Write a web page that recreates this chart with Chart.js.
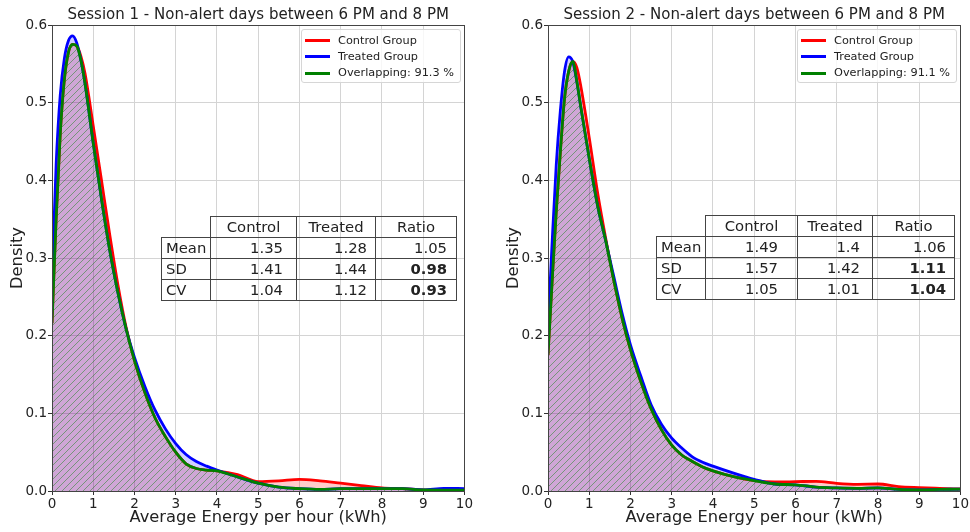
<!DOCTYPE html>
<html>
<head>
<meta charset="utf-8">
<script src="https://cdn.jsdelivr.net/npm/chart.js@4.4.1/dist/chart.umd.min.js"></script>
<style>
  html, body { margin: 0; padding: 0; background: #fff; }
  body { width: 970px; height: 532px; position: relative; overflow: hidden; font-family: "DejaVu Sans", sans-serif; color: #222; }
  canvas.panel { position: absolute; top: 0; }
  .legend { position: absolute; box-sizing: border-box; background: rgba(255,255,255,0.8); border: 1px solid #d6d6d6; border-radius: 3px; font-size: 11.3px; }
  .legend .swatch { position: absolute; height: 3px; width: 25px; }
  .legend .label { position: absolute; white-space: nowrap; line-height: 14px; }
  .cell { position: absolute; box-sizing: border-box; font-size: 14.8px; white-space: nowrap; }
</style>
</head>
<body>
<canvas id="chart1" class="panel" width="474" height="532" style="left:0px"></canvas>
<canvas id="chart2" class="panel" width="474" height="532" style="left:496px"></canvas>
<div id="overlay"></div>
<script>
const energyGrid = [0, 0.1, 0.2, 0.3, 0.4, 0.5, 0.6, 0.7, 0.8, 1.0, 1.2, 1.4, 1.6, 1.8, 2.0, 2.25, 2.5, 2.75, 3.0, 3.25, 3.5, 3.75, 4.0, 4.5, 5.0, 5.5, 6.0, 6.5, 7.0, 7.5, 8.0, 8.5, 9.0, 9.5, 10];

// Session 1
const s1Control = [0.216, 0.35, 0.46, 0.53, 0.565, 0.575, 0.573, 0.56, 0.538, 0.47, 0.40, 0.33, 0.265, 0.21, 0.168, 0.127, 0.094, 0.07, 0.05, 0.035, 0.029, 0.027, 0.026, 0.021, 0.012, 0.013, 0.015, 0.013, 0.010, 0.007, 0.004, 0.003, 0.0015, 0.0012, 0.001];
const s1Treated = [0.27, 0.42, 0.51, 0.557, 0.58, 0.586, 0.577, 0.555, 0.525, 0.448, 0.376, 0.31, 0.255, 0.208, 0.172, 0.135, 0.104, 0.08, 0.061, 0.047, 0.038, 0.032, 0.027, 0.018, 0.010, 0.005, 0.003, 0.002, 0.003, 0.003, 0.003, 0.003, 0.0015, 0.0035, 0.003];
const s1Overlap = [0.216, 0.35, 0.46, 0.53, 0.565, 0.575, 0.573, 0.555, 0.525, 0.448, 0.376, 0.31, 0.255, 0.208, 0.168, 0.127, 0.094, 0.07, 0.05, 0.035, 0.029, 0.027, 0.026, 0.018, 0.010, 0.005, 0.003, 0.002, 0.003, 0.003, 0.003, 0.003, 0.0013, 0.0012, 0.001];

// Session 2
const s2Control = [0.175, 0.27, 0.36, 0.437, 0.505, 0.54, 0.553, 0.545, 0.52, 0.455, 0.385, 0.325, 0.27, 0.222, 0.182, 0.141, 0.106, 0.079, 0.059, 0.046, 0.038, 0.031, 0.026, 0.0185, 0.0134, 0.0116, 0.012, 0.0125, 0.0099, 0.0086, 0.009, 0.0056, 0.0043, 0.0034, 0.0026];
const s2Treated = [0.21, 0.32, 0.42, 0.49, 0.54, 0.559, 0.553, 0.527, 0.493, 0.428, 0.368, 0.322, 0.275, 0.228, 0.188, 0.148, 0.111, 0.086, 0.068, 0.055, 0.044, 0.037, 0.032, 0.023, 0.015, 0.009, 0.008, 0.005, 0.004, 0.0035, 0.004, 0.002, 0.0015, 0.002, 0.0025];
const s2Overlap = [0.175, 0.27, 0.36, 0.437, 0.505, 0.54, 0.553, 0.527, 0.493, 0.428, 0.368, 0.322, 0.27, 0.222, 0.182, 0.141, 0.106, 0.079, 0.059, 0.046, 0.038, 0.031, 0.026, 0.0185, 0.0134, 0.009, 0.008, 0.005, 0.004, 0.0035, 0.004, 0.002, 0.0015, 0.002, 0.0025];

const s1OverlapPct = '91.3';
const s2OverlapPct = '91.1';

// stats tables
const statNames = ['Mean', 'SD', 'CV'];
const statHeader = ['Control', 'Treated', 'Ratio'];
const s1ControlStats = ['1.35', '1.41', '1.04'];
const s1TreatedStats = ['1.28', '1.44', '1.12'];
const s1RatioStats = ['1.05', '0.98', '0.93'];
const s2ControlStats = ['1.49', '1.57', '1.05'];
const s2TreatedStats = ['1.4', '1.42', '1.01'];
const s2RatioStats = ['1.06', '1.11', '1.04'];
const ratioBold = [false, true, true];

const FONT = '"DejaVu Sans", sans-serif';

function hatchPattern() {
    const s = 7;
    const c = document.createElement('canvas');
    c.width = s; c.height = s;
    const g = c.getContext('2d');
    g.strokeStyle = 'rgba(30,130,30,0.5)';
    g.lineWidth = 1;
    g.beginPath();
    g.moveTo(0, s); g.lineTo(s, 0);
    g.moveTo(-1, 1); g.lineTo(1, -1);
    g.moveTo(s - 1, s + 1); g.lineTo(s + 1, s - 1);
    g.stroke();
    return g.createPattern(c, 'repeat');
}

// matplotlib-like box round the plot area
const framePlugin = {
    id: 'frame',
    afterDraw(chart) {
        const a = chart.chartArea;
        const ctx = chart.ctx;
        ctx.save();
        ctx.strokeStyle = '#444';
        ctx.lineWidth = 1;
        ctx.strokeRect(Math.round(a.left) + 0.5, Math.round(a.top) + 0.5, Math.round(a.right - a.left), Math.round(a.bottom - a.top));
        ctx.restore();
    }
};

function points(ys) {
    return energyGrid.map((x, i) => ({ x: x, y: ys[i] }));
}

function makeChart(id, title, control, treated, overlap) {
    const ctx = document.getElementById(id).getContext('2d');
    return new Chart(ctx, {
        type: 'line',
        data: {
            datasets: [
                { label: 'Overlap', data: points(overlap), borderColor: '#008000', backgroundColor: hatchPattern(), fill: 'origin', order: 1 },
                { label: 'Treated Group', data: points(treated), borderColor: '#0000ff', backgroundColor: 'rgba(0,0,255,0.19)', fill: 'origin', order: 2 },
                { label: 'Control Group', data: points(control), borderColor: '#ff0000', backgroundColor: 'rgba(255,0,0,0.2)', fill: 'origin', order: 3 }
            ]
        },
        options: {
            responsive: false,
            animation: false,
            devicePixelRatio: 1,
            layout: { padding: { left: 0, right: 8, top: 0, bottom: 0 } },
            elements: {
                point: { radius: 0 },
                line: { borderWidth: 2.8, cubicInterpolationMode: 'monotone' }
            },
            plugins: {
                legend: { display: false },
                tooltip: { enabled: false },
                filler: { drawTime: 'beforeDatasetsDraw' },
                title: {
                    display: true, text: title, fullSize: false, color: '#222',
                    font: { family: FONT, size: 15, weight: 'normal', lineHeight: 1.2 },
                    padding: { top: 6, bottom: 1 }
                }
            },
            scales: {
                x: {
                    type: 'linear', min: 0, max: 10,
                    afterFit: s => { s.height = 41; },
                    border: { display: false },
                    grid: { color: '#d4d4d4', tickColor: '#333', tickLength: 4 },
                    ticks: { stepSize: 1, padding: 1, color: '#222', font: { family: FONT, size: 13.5 } },
                    title: { display: true, text: 'Average Energy per hour (kWh)', color: '#222', font: { family: FONT, size: 16.3 }, padding: { top: 0, bottom: 4 } }
                },
                y: {
                    min: 0, max: 0.6,
                    afterFit: s => { s.width = 52; },
                    border: { display: false },
                    grid: { color: '#d4d4d4', tickColor: '#333', tickLength: 4 },
                    ticks: { stepSize: 0.1, padding: 1, color: '#222', font: { family: FONT, size: 13.5 }, callback: v => Number(v).toFixed(1) },
                    title: { display: true, text: 'Density', color: '#222', font: { family: FONT, size: 16.3 }, padding: { top: 8, bottom: 0 } }
                }
            }
        },
        plugins: [framePlugin]
    });
}

const overlay = document.getElementById('overlay');

function addDiv(cls, css, text) {
    const d = document.createElement('div');
    d.className = cls;
    Object.assign(d.style, css);
    if (text !== undefined) d.textContent = text;
    overlay.appendChild(d);
    return d;
}

function buildLegend(left, top, overlapPct) {
    const box = addDiv('legend', { left: left + 'px', top: top + 'px', width: '160px', height: '54px' });
    const entries = [['Control Group', '#ff0000'], ['Treated Group', '#0000ff'], ['Overlapping: ' + overlapPct + ' %', '#008000']];
    entries.forEach((e, i) => {
        const sw = document.createElement('div');
        sw.className = 'swatch';
        sw.style.left = '3px';
        sw.style.top = (9 + i * 16.4) + 'px';
        sw.style.background = e[1];
        box.appendChild(sw);
        const lb = document.createElement('div');
        lb.className = 'label';
        lb.style.left = '36px';
        lb.style.top = (3.5 + i * 16.4) + 'px';
        lb.textContent = e[0];
        box.appendChild(lb);
    });
}

function buildTable(edges, top, pads, control, treated, ratio) {
    const h = 21;
    const cols = [control, treated, ratio];
    // header row
    statHeader.forEach((name, c) => {
        addDiv('cell', {
            left: edges[c + 1] + 'px', top: top + 'px', width: (edges[c + 2] - edges[c + 1] + 1) + 'px', height: (h + 1) + 'px',
            border: '1px solid #444', textAlign: 'center', lineHeight: (h - 1) + 'px'
        }, name);
    });
    statNames.forEach((name, r) => {
        const y = top + h * (r + 1);
        addDiv('cell', {
            left: edges[0] + 'px', top: y + 'px', width: (edges[1] - edges[0] + 1) + 'px', height: (h + 1) + 'px',
            border: '1px solid #444', textAlign: 'left', paddingLeft: '4px', lineHeight: (h - 1) + 'px'
        }, name);
        cols.forEach((vals, c) => {
            addDiv('cell', {
                left: edges[c + 1] + 'px', top: y + 'px', width: (edges[c + 2] - edges[c + 1] + 1) + 'px', height: (h + 1) + 'px',
                border: '1px solid #444', textAlign: 'right', paddingRight: pads[c] + 'px', lineHeight: (h - 1) + 'px',
                fontWeight: (c === 2 && ratioBold[r]) ? 'bold' : 'normal'
            }, vals[r]);
        });
    });
}

makeChart('chart1', 'Session 1 - Non-alert days between 6 PM and 8 PM', s1Control, s1Treated, s1Overlap);
makeChart('chart2', 'Session 2 - Non-alert days between 6 PM and 8 PM', s2Control, s2Treated, s2Overlap);

buildLegend(301, 29, s1OverlapPct);
buildLegend(797, 29, s2OverlapPct);

buildTable([161, 210, 296, 375, 456], 216, [13, 8, 9], s1ControlStats, s1TreatedStats, s1RatioStats);
buildTable([656, 705, 797, 872, 954], 215, [19, 12, 8], s2ControlStats, s2TreatedStats, s2RatioStats);
</script>
</body>
</html>
